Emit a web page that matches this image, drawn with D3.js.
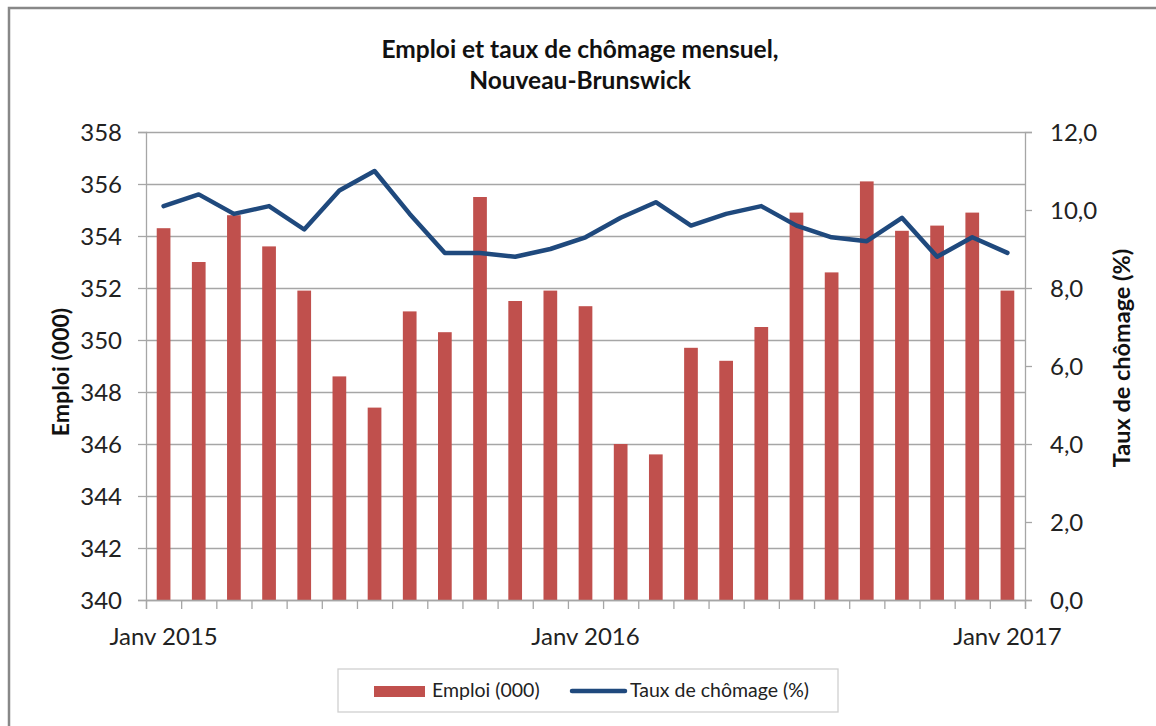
<!DOCTYPE html>
<html>
<head>
<meta charset="utf-8">
<script src="https://cdn.jsdelivr.net/npm/d3@7"></script>
<style>
    body { margin: 0; background: #fff; }
    svg { display: block; font-family: Lato, "Open Sans", sans-serif; }
    .tick text { fill: #222; }
</style>
</head>
<body>
<svg id="chart" width="1156" height="726"></svg>
<script>
// months from Janv 2015 to Janv 2017
const months = [
    '2015-01', '2015-02', '2015-03', '2015-04', '2015-05', '2015-06', '2015-07',
    '2015-08', '2015-09', '2015-10', '2015-11', '2015-12',
    '2016-01', '2016-02', '2016-03', '2016-04', '2016-05', '2016-06', '2016-07',
    '2016-08', '2016-09', '2016-10', '2016-11', '2016-12',
    '2017-01'
];
const monthLabels = { '2015-01': 'Janv 2015', '2016-01': 'Janv 2016', '2017-01': 'Janv 2017' };

// Emploi (000)
const emploi = [
    354.3, 353.0, 354.8, 353.6, 351.9, 348.6, 347.4, 351.1, 350.3, 355.5, 351.5, 351.9,
    351.3, 346.0, 345.6, 349.7, 349.2, 350.5, 354.9, 352.6, 356.1, 354.2, 354.4, 354.9,
    351.9
];
// Taux de chômage (%)
const chomage = [
    10.1, 10.4, 9.9, 10.1, 9.5, 10.5, 11.0, 9.9, 8.9, 8.9, 8.8, 9.0,
    9.3, 9.8, 10.2, 9.6, 9.9, 10.1, 9.6, 9.3, 9.2, 9.8, 8.8, 9.3,
    8.9
];

const leftTicks = [340, 342, 344, 346, 348, 350, 352, 354, 356, 358];
const rightTicks = [0, 2, 4, 6, 8, 10, 12];

const barColor = '#C0504D';
const lineColor = '#1F497D';
const gridColor = '#a6a6a6';

const svg = d3.select('#chart');

const plotLeft = 146, plotRight = 1025, plotTop = 132, plotBottom = 600;

const x = d3.scaleBand().domain(months).range([plotLeft, plotRight]).padding(0);
const xi = d3.scaleLinear().domain([0, months.length]).range([plotLeft, plotRight]);
const yL = d3.scaleLinear().domain([340, 358]).range([plotBottom, plotTop]);
const yR = d3.scaleLinear().domain([0, 12]).range([plotBottom, plotTop]);

// outer frame
svg.append('path')
    .attr('d', 'M9,726 V8 H1156')
    .attr('fill', 'none')
    .attr('stroke', '#888')
    .attr('stroke-width', 2.5);

// title
const title = svg.append('text')
    .attr('text-anchor', 'middle')
    .attr('font-weight', 'bold')
    .attr('font-size', 24.5)
    .attr('fill', '#111');
title.append('tspan').attr('x', 580).attr('y', 58).text('Emploi et taux de chômage mensuel,');
title.append('tspan').attr('x', 580).attr('y', 89).text('Nouveau-Brunswick');

// gridlines
svg.append('g')
    .attr('transform', `translate(${plotLeft},0)`)
    .call(d3.axisLeft(yL).tickValues(leftTicks).tickSize(-(plotRight - plotLeft)).tickFormat(''))
    .call(g => g.select('.domain').remove())
    .selectAll('line')
    .attr('stroke', gridColor)
    .attr('stroke-width', 1.3);

// bars
const bw = x.bandwidth() * 0.39;
svg.append('g')
    .selectAll('rect')
    .data(months)
    .enter()
    .append('rect')
    .attr('x', (d) => x(d) + x.bandwidth() / 2 - bw / 2)
    .attr('width', bw)
    .attr('y', (d, i) => yL(emploi[i]))
    .attr('height', (d, i) => plotBottom - yL(emploi[i]))
    .attr('fill', barColor);

// left axis
svg.append('g')
    .attr('transform', `translate(${plotLeft},0)`)
    .call(d3.axisLeft(yL).tickValues(leftTicks).tickSize(8).tickPadding(16).tickFormat(d3.format('d')))
    .call(g => g.selectAll('line,path').attr('stroke', gridColor).attr('stroke-width', 1.3))
    .selectAll('text')
    .attr('font-size', 24)
    .attr('font-family', 'Lato')
    .attr('dy', '0.36em');

// right axis
svg.append('g')
    .attr('transform', `translate(${plotRight},0)`)
    .call(d3.axisRight(yR).tickValues(rightTicks).tickSize(7).tickPadding(18)
        .tickFormat(d => d3.format('.1f')(d).replace('.', ',')))
    .call(g => g.selectAll('line,path').attr('stroke', gridColor).attr('stroke-width', 1.3))
    .selectAll('text')
    .attr('font-size', 24)
    .attr('font-family', 'Lato')
    .attr('dy', '0.36em');

// x axis ticks at category boundaries
svg.append('g')
    .attr('transform', `translate(0,${plotBottom})`)
    .call(d3.axisBottom(xi).tickValues(d3.range(months.length + 1)).tickSize(9).tickFormat(''))
    .call(g => g.selectAll('line,path').attr('stroke', gridColor).attr('stroke-width', 1.3));

// x labels
svg.append('g')
    .attr('transform', `translate(0,${plotBottom})`)
    .call(d3.axisBottom(x).tickSize(0).tickPadding(28).tickFormat(d => monthLabels[d] || ''))
    .call(g => g.select('.domain').remove())
    .selectAll('text')
    .attr('font-size', 24)
    .attr('font-family', 'Lato');

// line
const line = d3.line()
    .x((d, i) => x(months[i]) + x.bandwidth() / 2)
    .y((d) => yR(d));
svg.append('path')
    .datum(chomage)
    .attr('d', line)
    .attr('fill', 'none')
    .attr('stroke', lineColor)
    .attr('stroke-width', 4.5)
    .attr('stroke-linejoin', 'round')
    .attr('stroke-linecap', 'round');

// axis titles
svg.append('text')
    .attr('transform', 'translate(69,372) rotate(-90)')
    .attr('text-anchor', 'middle')
    .attr('font-weight', 'bold')
    .attr('font-size', 23)
    .attr('fill', '#111')
    .text('Emploi (000)');
svg.append('text')
    .attr('transform', 'translate(1130,358) rotate(-90)')
    .attr('text-anchor', 'middle')
    .attr('font-weight', 'bold')
    .attr('font-size', 23.5)
    .attr('fill', '#111')
    .text('Taux de chômage (%)');

// legend
const legend = svg.append('g');
legend.append('rect')
    .attr('x', 338).attr('y', 669).attr('width', 500).attr('height', 43)
    .attr('fill', '#fff').attr('stroke', '#d0d0d0').attr('stroke-width', 1.3);
legend.append('rect')
    .attr('x', 374).attr('y', 686).attr('width', 51).attr('height', 11)
    .attr('fill', barColor);
legend.append('text')
    .attr('x', 432).attr('y', 697)
    .attr('font-size', 19.5)
    .attr('fill', '#222')
    .text('Emploi (000)');
legend.append('line')
    .attr('x1', 572).attr('x2', 625).attr('y1', 691).attr('y2', 691)
    .attr('stroke', lineColor).attr('stroke-width', 4.5).attr('stroke-linecap', 'round');
legend.append('text')
    .attr('x', 630).attr('y', 697)
    .attr('font-size', 19.5)
    .attr('fill', '#222')
    .text('Taux de chômage (%)');
</script>
</body>
</html>
